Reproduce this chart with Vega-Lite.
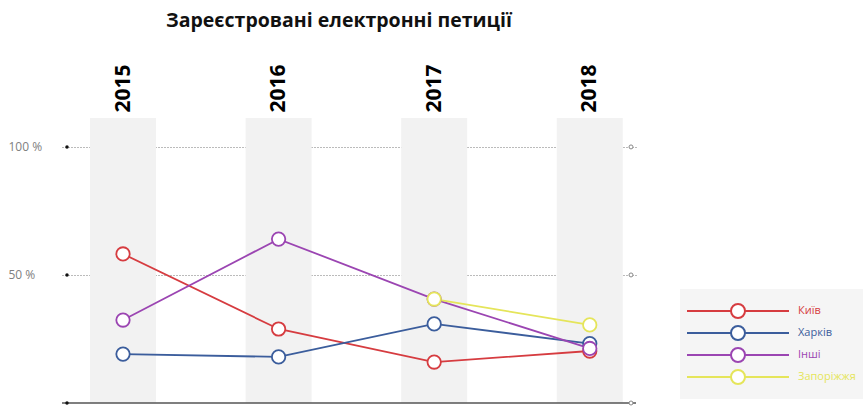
{
  "$schema": "https://vega.github.io/schema/vega-lite/v6.json",
  "width": 574,
  "height": 285,
  "autosize": {"type": "none"},
  "padding": {"left": 62, "top": 118, "right": 227, "bottom": 4},
  "background": "white",
  "title": {
    "text": "Зареєстровані електронні петиції",
    "font": "Open Sans",
    "fontSize": 19.5,
    "fontWeight": "bold",
    "color": "#111111",
    "anchor": "middle",
    "offset": 32,
    "dx": -10
  },
  "config": {"view": {"stroke": null}},
  "datasets": {
    "years": [{"year": 2015}, {"year": 2016}, {"year": 2017}, {"year": 2018}],
    "grid": [{"pct": 0}, {"pct": 50}, {"pct": 100}],
    "petitions": [
      {"city": "Київ", "year": 2015, "value": 58.2},
      {"city": "Київ", "year": 2016, "value": 28.9},
      {"city": "Київ", "year": 2017, "value": 16.0},
      {"city": "Київ", "year": 2018, "value": 20.3},
      {"city": "Харків", "year": 2015, "value": 19.1},
      {"city": "Харків", "year": 2016, "value": 18.0},
      {"city": "Харків", "year": 2017, "value": 30.9},
      {"city": "Харків", "year": 2018, "value": 23.2},
      {"city": "Інші", "year": 2015, "value": 32.4},
      {"city": "Інші", "year": 2016, "value": 64.0},
      {"city": "Інші", "year": 2017, "value": 40.6},
      {"city": "Інші", "year": 2018, "value": 21.3},
      {"city": "Запоріжжя", "year": 2017, "value": 40.6},
      {"city": "Запоріжжя", "year": 2018, "value": 30.5}
    ]
  },
  "layer": [
    {
      "data": {"name": "years"},
      "mark": {"type": "bar", "width": 66, "color": "#f2f2f2"},
      "encoding": {
        "x": {
          "field": "year",
          "type": "quantitative",
          "scale": {"domain": [2014.64, 2018.265], "nice": false, "zero": false},
          "axis": {
            "orient": "top",
            "values": [2015, 2016, 2017, 2018],
            "format": "d",
            "labelAngle": -90,
            "labelFont": "Open Sans",
            "labelFontWeight": "bold",
            "labelFontSize": 21,
            "labelColor": "#000000",
            "labelPadding": 6,
            "domain": false,
            "ticks": false,
            "grid": false,
            "title": null
          }
        },
        "y": {
          "datum": 0,
          "type": "quantitative",
          "scale": {"domain": [0, 111.3], "nice": false},
          "axis": {
            "values": [50, 100],
            "labelExpr": "datum.value + ' %'",
            "labelAlign": "left",
            "labelPadding": 54,
            "labelFont": "Open Sans",
            "labelFontSize": 12,
            "labelColor": "#808080",
            "grid": true,
            "gridDash": [1, 2],
            "gridColor": "#777777",
            "gridWidth": 1,
            "domain": false,
            "ticks": false,
            "title": null
          }
        },
        "y2": {"datum": 111.3}
      }
    },
    {
      "data": {"name": "grid"},
      "transform": [{"filter": "datum.pct == 0"}],
      "mark": {"type": "rule", "color": "#555555", "strokeWidth": 1.5},
      "encoding": {"y": {"field": "pct", "type": "quantitative"}}
    },
    {
      "data": {"name": "grid"},
      "mark": {"type": "point", "filled": true, "color": "#111111", "size": 12, "opacity": 1},
      "encoding": {
        "x": {"datum": 2014.64, "type": "quantitative"},
        "y": {"field": "pct", "type": "quantitative"}
      }
    },
    {
      "data": {"name": "grid"},
      "mark": {"type": "point", "filled": false, "fill": "white", "stroke": "#888888", "strokeWidth": 1, "size": 16, "opacity": 1},
      "encoding": {
        "x": {"datum": 2018.265, "type": "quantitative"},
        "y": {"field": "pct", "type": "quantitative"}
      }
    },
    {
      "data": {"name": "petitions"},
      "mark": {"type": "line", "strokeWidth": 1.8},
      "encoding": {
        "x": {"field": "year", "type": "quantitative"},
        "y": {"field": "value", "type": "quantitative"},
        "color": {
          "field": "city",
          "type": "nominal",
          "scale": {
            "domain": ["Київ", "Харків", "Інші", "Запоріжжя"],
            "range": ["#d63c40", "#3b5d9c", "#9b45b2", "#e5e55a"]
          },
          "legend": {
            "title": null,
            "orient": "none",
            "legendX": 618,
            "legendY": 171,
            "symbolType": "M-5.1,0H-0.7A0.7,0.7 0 1,1 0.7,0A0.7,0.7 0 1,1 -0.7,0M0.7,0H5.1",
            "symbolSize": 400,
            "symbolStrokeWidth": 2,
            "symbolFillColor": "white",
            "symbolOffset": 36,
            "labelOffset": 49,
            "labelFont": "Open Sans",
            "labelFontSize": 11,
            "fillColor": "#f5f5f5",
            "padding": 11,
            "rowPadding": 0,
            "encode": {
              "labels": {"update": {"fill": {"scale": "color", "field": "value"}}},
              "symbols": {"update": {"stroke": {"scale": "color", "field": "value"}, "fill": {"value": "white"}}}
            }
          }
        }
      }
    },
    {
      "data": {"name": "petitions"},
      "mark": {"type": "point", "filled": false, "fill": "white", "fillOpacity": 1, "strokeWidth": 1.8, "size": 180, "opacity": 1},
      "encoding": {
        "x": {"field": "year", "type": "quantitative"},
        "y": {"field": "value", "type": "quantitative"},
        "color": {"field": "city", "type": "nominal"}
      }
    }
  ]
}
